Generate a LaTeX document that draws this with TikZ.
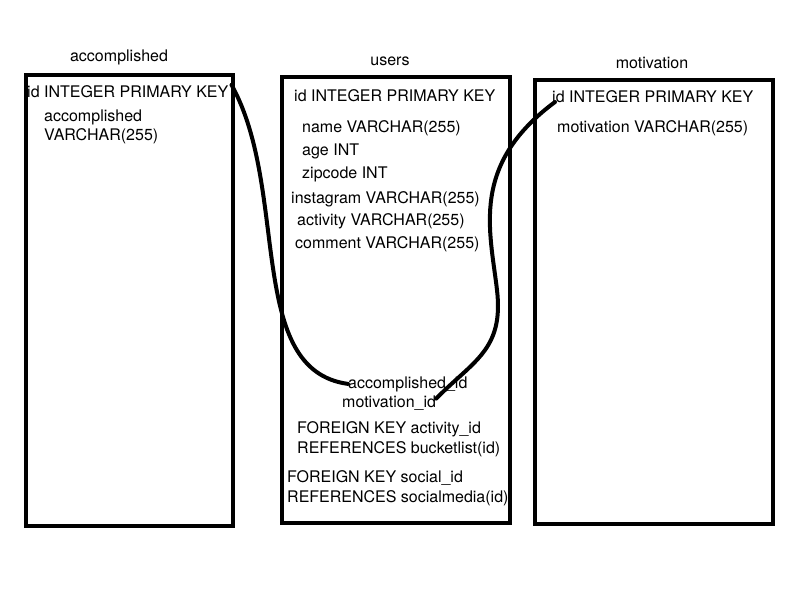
\documentclass[tikz,border=0pt]{standalone}
\usepackage{fontspec}
\setmainfont{TeX Gyre Heros}
\usepackage{tikz}
\newcommand\tblfont{\fontsize{16pt}{19pt}\selectfont}
\tikzset{
  tbl/.style={draw=black, line width=4pt, fill=white, inner sep=0pt},
  ttl/.style={anchor=base, inner sep=0pt, font=\tblfont, text=black},
  fld/.style={anchor=base west, inner sep=0pt, font=\tblfont, text=black},
  fk/.style={draw=black, line width=4pt, line cap=round},
}

\begin{document}
\begin{tikzpicture}[x=1pt, y=-1pt]
    \useasboundingbox (0,0) rectangle (800,600);
    % tables
    \node[tbl, minimum width=207pt, minimum height=451pt] (acc) at (129.5,300.5) {};
    \node[tbl, minimum width=228pt, minimum height=446pt] (usr) at (396,300) {};
    \node[tbl, minimum width=238pt, minimum height=444pt] (mot) at (654,302) {};
    \node[ttl] (acct) at (119,61) {accomplished};
    \node[ttl] (usrt) at (390,65) {users};
    \node[ttl] (mott) at (652,68) {motivation};
    % accomplished
    \node[fld] (accpk) at (27,97) {id INTEGER PRIMARY KEY};
    \node[fld] (accnm) at (44,121.5) {accomplished};
    \node[fld] (accty) at (44,140) {VARCHAR(255)};
    % users
    \node[fld] (usrpk) at (294,101) {id INTEGER PRIMARY KEY};
    \node[fld] (usrnm) at (302,132) {name VARCHAR(255)};
    \node[fld] (usrag) at (302,155) {age INT};
    \node[fld] (usrzc) at (302,178) {zipcode INT};
    \node[fld] (usrig) at (291,203) {instagram VARCHAR(255)};
    \node[fld] (usrac) at (297,225) {activity VARCHAR(255)};
    \node[fld] (usrcm) at (295,248) {comment VARCHAR(255)};
    \node[fld] (accid) at (348,388) {accomplished\_id};
    \node[fld] (motid) at (342,407) {motivation\_id};
    \node[fld] (fkact) at (297,433) {FOREIGN KEY activity\_id};
    \node[fld] (rfact) at (297,453) {REFERENCES bucketlist(id)};
    \node[fld] (fksoc) at (287,482) {FOREIGN KEY social\_id};
    \node[fld] (rfsoc) at (287,502) {REFERENCES socialmedia(id)};
    % motivation
    \node[fld] (motpk) at (552,102) {id INTEGER PRIMARY KEY};
    \node[fld] (motvc) at (557,132) {motivation VARCHAR(255)};
    % links
    \coordinate (mbend) at (497,290);
    \draw[fk] ([xshift=3pt]accpk.north east) .. controls (290,190) and (245,370) .. (accid.west);
    \draw[fk] ([xshift=3pt]motpk.base west) .. controls (470,165) and (490,230) .. (mbend)
              .. controls (504,350) and (473,361) .. ([yshift=4pt]motid.east);
\end{tikzpicture}
\end{document}
